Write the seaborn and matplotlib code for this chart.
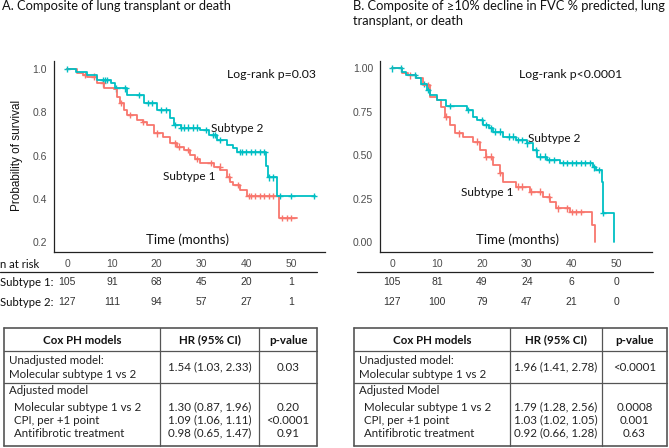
import numpy as np
import pandas as pd
import matplotlib
matplotlib.use("Agg")
import matplotlib.pyplot as plt
import matplotlib.transforms as mtransforms
from matplotlib.lines import Line2D
import seaborn as sns

# ---- data ----
# Panel A: lung transplant or death
a_s1_time = [0, 2.2, 3.5, 4.5, 6.7, 8.2, 10.4, 11.1, 11.9, 12.6, 13.4, 15.6, 17.0, 17.8, 19.3,
             21.5, 23.0, 24.5, 26.0, 27.5, 28.5, 29.7, 32.7, 34.2, 35.7, 36.4, 37.1, 38.6, 40.1,
             47.2, 51.3]
a_s1_surv = [1.0, 0.98, 0.972, 0.965, 0.934, 0.911, 0.906, 0.872, 0.842, 0.81, 0.788, 0.765, 0.755,
             0.742, 0.703, 0.688, 0.657, 0.642, 0.625, 0.603, 0.585, 0.565, 0.549, 0.534, 0.503,
             0.48, 0.465, 0.442, 0.414, 0.312, 0.312]
a_s2_time = [0, 1.9, 4.5, 6.7, 9.7, 10.8, 13.4, 17.1, 20.0, 23.0, 23.8, 25.3, 29.7, 31.6, 33.4,
             35.7, 37.1, 37.9, 44.4, 44.8, 46.8, 55.2]
a_s2_surv = [1.0, 0.988, 0.972, 0.949, 0.934, 0.911, 0.88, 0.842, 0.81, 0.772, 0.742, 0.729, 0.718,
             0.695, 0.672, 0.649, 0.634, 0.617, 0.55, 0.50, 0.414, 0.414]
a_s1_cens = [4, 6, 8, 12, 14, 17, 20, 24, 25, 27, 29, 32, 34, 36, 38, 40.5, 41, 42, 43, 44, 45,
             46, 48, 49, 50]
a_s2_cens = [0, 8, 8.5, 9, 11, 13, 16, 18, 19, 21, 22, 24, 25.5, 26, 27, 28, 29, 31, 32.5, 33, 34,
             38.5, 39, 40, 41, 42, 43, 44, 45, 46, 47.5, 50, 55]

# Panel B: >=10% FVC decline, lung transplant or death
b_s1_time = [0, 2.1, 3.5, 5.4, 6.9, 8.4, 9.9, 11.0, 11.7, 12.9, 14.0, 15.8, 18.0, 19.5, 21.0,
             22.5, 24.0, 24.7, 27.7, 30.7, 33.7, 35.1, 36.6, 39.6, 44.5, 45.2]
b_s1_surv = [1.0, 0.975, 0.96, 0.943, 0.904, 0.837, 0.818, 0.78, 0.722, 0.674, 0.626, 0.607,
             0.579, 0.531, 0.492, 0.444, 0.397, 0.349, 0.32, 0.291, 0.262, 0.234, 0.195, 0.174,
             0.10, 0.0]
b_s2_time = [0, 2.1, 3.2, 5.4, 6.5, 7.7, 8.4, 9.9, 12.1, 16.6, 18.0, 19.0, 20.3, 21.5, 22.5,
             24.7, 27.7, 30.0, 31.4, 32.2, 34.4, 37.4, 44.7, 45.5, 46.7, 47.0, 49.4]
b_s2_surv = [1.0, 0.981, 0.962, 0.943, 0.91, 0.875, 0.847, 0.818, 0.784, 0.761, 0.722, 0.70,
             0.674, 0.655, 0.636, 0.607, 0.588, 0.569, 0.531, 0.492, 0.473, 0.456, 0.43, 0.415,
             0.346, 0.168, 0.0]
b_s1_cens = [4, 8, 12, 15, 19, 21, 22, 24, 28, 29, 31, 33, 35, 37, 39, 40, 41, 42]
b_s2_cens = [0, 2, 5, 7, 8, 13, 17, 20, 21, 22, 23, 24, 26, 27, 28, 29, 30, 32, 33, 34, 35, 36,
             38, 39, 40, 41, 42, 43, 44, 45, 46, 47]

risk_times = [0, 10, 20, 30, 40, 50]
a_risk_s1 = [105, 91, 68, 45, 20, 1]
a_risk_s2 = [127, 111, 94, 57, 27, 1]
b_risk_s1 = [105, 81, 49, 24, 6, 0]
b_risk_s2 = [127, 100, 79, 47, 21, 0]

table_header = ["Cox PH models", "HR (95% CI)", "p-value"]
a_unadj_label = ["Unadjusted model:", "Molecular subtype 1 vs 2"]
a_unadj_hr = "1.54 (1.03, 2.33)"
a_unadj_p = "0.03"
a_adj_title = "Adjusted model"
adj_vars = ["Molecular subtype 1 vs 2", "CPI, per +1 point", "Antifibrotic treatment"]
a_adj_hr = ["1.30 (0.87, 1.96)", "1.09 (1.06, 1.11)", "0.98 (0.65, 1.47)"]
a_adj_p = ["0.20", "<0.0001", "0.91"]
b_unadj_hr = "1.96 (1.41, 2.78)"
b_unadj_p = "<0.0001"
b_adj_title = "Adjusted Model"
b_adj_hr = ["1.79 (1.28, 2.56)", "1.03 (1.02, 1.05)", "0.92 (0.66, 1.28)"]
b_adj_p = ["0.0008", "0.001", "0.63"]

RED = "#F8766D"
TEAL = "#00BFC4"
W, H = 669, 448

sns.set_style("white")
plt.rcParams["font.family"] = ["Liberation Sans", "DejaVu Sans"]
CAL = ["Lato", "DejaVu Sans"]
TBL = 8.3

fig = plt.figure(figsize=(W / 100, H / 100), dpi=100)


def fx(px):
    return px / W


def fy(py):
    return 1 - py / H


def ftext(x, y, s, **kw):
    kw.setdefault("family", CAL)
    kw.setdefault("fontsize", 8)
    kw.setdefault("color", "#111111")
    fig.text(fx(x), fy(y), s, **kw)


def km_frame(times, surv, group):
    return pd.DataFrame({"time": times, "surv": surv, "group": group})


def surv_at(times, surv, t):
    idx = np.searchsorted(times, t, side="right") - 1
    return surv[max(idx, 0)]


def draw_km(ax, s1, s2, c1, c2):
    df = pd.concat([km_frame(s1[0], s1[1], "Subtype 1"), km_frame(s2[0], s2[1], "Subtype 2")])
    sns.lineplot(data=df, x="time", y="surv", hue="group", palette=[RED, TEAL],
                 drawstyle="steps-post", linewidth=1.3, legend=False, ax=ax, estimator=None)
    cens = []
    for (t, s), cs, g in [(s1, c1, "Subtype 1"), (s2, c2, "Subtype 2")]:
        for c in cs:
            cens.append({"time": c, "surv": surv_at(t, s, c), "group": g})
    cdf = pd.DataFrame(cens)
    sns.scatterplot(data=cdf, x="time", y="surv", hue="group", palette=[RED, TEAL],
                    marker="+", s=22, linewidth=1.0, legend=False, ax=ax)
    sns.despine(ax=ax)
    ax.set_xlabel("")
    ax.set_ylabel("")
    ax.set_xticks(risk_times)
    ax.tick_params(axis="both", labelsize=7.5, colors="#333333", length=3, width=0.8,
                   labelcolor="#4d4d4d", pad=2)
    for sp in ["left", "bottom"]:
        ax.spines[sp].set_color("#222222")
        ax.spines[sp].set_linewidth(0.9)


# ---- panel A ----
axA = fig.add_axes([fx(54), fy(252), fx(325 - 54), (252 - 61) / H])
draw_km(axA, (a_s1_time, a_s1_surv), (a_s2_time, a_s2_surv), a_s1_cens, a_s2_cens)
axA.set_xlim(-2.9, 57.5)
axA.set_ylim(0.155, 1.037)
axA.set_yticks([0.2, 0.4, 0.6, 0.8, 1.0])
axA.set_yticklabels(["0.2", "0.4", "0.6", "0.8", "1.0"])

# ---- panel B ----
axB = fig.add_axes([fx(380), fy(252), fx(652 - 380), (252 - 61) / H])
draw_km(axB, (b_s1_time, b_s1_surv), (b_s2_time, b_s2_surv), b_s1_cens, b_s2_cens)
axB.set_xlim(-2.7, 57.9)
axB.set_ylim(-0.056, 1.042)
axB.set_yticks([0, 0.25, 0.5, 0.75, 1.0])
axB.set_yticklabels(["0.00", "0.25", "0.50", "0.75", "1.00"])

# titles and annotations
ftext(2, 6, "A. Composite of lung transplant or death", fontsize=9.3, va="center")
ftext(353, 6, "B. Composite of \u226510% decline in FVC % predicted, lung", fontsize=9.3,
      va="center")
ftext(353, 21, "transplant, or death", fontsize=9.3, va="center")
ftext(17, 155, "Probability of survival", family=["Liberation Sans", "DejaVu Sans"],
      fontsize=8.5, rotation=90, ha="center", va="center")
ftext(187, 240, "Time (months)", fontsize=9.5, ha="center", va="center")
ftext(518, 240, "Time (months)", fontsize=9.5, ha="center", va="center")
ftext(271, 75, "Log-rank p=0.03", fontsize=8.8, ha="center", va="center")
ftext(571, 75, "Log-rank p<0.0001", fontsize=8.8, ha="center", va="center")
ftext(237, 128, "Subtype 2", fontsize=8.5, ha="center", va="center")
ftext(189, 177, "Subtype 1", fontsize=8.5, ha="center", va="center")
ftext(554, 138, "Subtype 2", fontsize=8.5, ha="center", va="center")
ftext(487, 192, "Subtype 1", fontsize=8.5, ha="center", va="center")

# ---- numbers at risk ----
ftext(0, 265, "n at risk", fontsize=8.2, va="center")
fig.add_artist(Line2D([fx(0), fx(317)], [fy(272), fy(272)], color="#222222", lw=0.9))
fig.add_artist(Line2D([fx(357), fx(653)], [fy(272), fy(272)], color="#222222", lw=0.9))
ftext(0, 282, "Subtype 1:", fontsize=8.2, va="center")
ftext(0, 302, "Subtype 2:", fontsize=8.2, va="center")
for ax, r1, r2 in [(axA, a_risk_s1, a_risk_s2), (axB, b_risk_s1, b_risk_s2)]:
    tr = mtransforms.blended_transform_factory(ax.transData, fig.transFigure)
    for t, n1, n2 in zip(risk_times, r1, r2):
        fig.text(t, fy(282), str(n1), transform=tr, ha="center", va="center", fontsize=7.5,
                 color="#333333")
        fig.text(t, fy(302), str(n2), transform=tr, ha="center", va="center", fontsize=7.5,
                 color="#333333")


# ---- Cox PH tables ----
def hline(x0, x1, y, lw=0.9):
    fig.add_artist(Line2D([fx(x0), fx(x1)], [fy(y), fy(y)], color="#555555", lw=lw))


def vline(x, y0, y1, lw=0.9):
    fig.add_artist(Line2D([fx(x), fx(x)], [fy(y0), fy(y1)], color="#555555", lw=lw))


def draw_table(left, c1, c2, right, unadj_hr, unadj_p, adj_title, adj_hr, adj_p):
    top, hdr, mid, bot = 328, 351, 383, 446
    for y in [top, hdr, mid, bot]:
        hline(left, right, y, lw=1.2 if y in (top, bot) else 0.9)
    for x in [left, c1, c2, right]:
        vline(x, top, bot, lw=1.2 if x in (left, right) else 0.9)
    centers = [(left + c1) / 2, (c1 + c2) / 2, (c2 + right) / 2]
    for cx, h in zip(centers, table_header):
        ftext(cx, 340, h, fontsize=TBL, fontweight="bold", ha="center", va="center")
    ftext(left + 5, 360, a_unadj_label[0], fontsize=TBL, va="center", color="#222222")
    ftext(left + 5, 374, a_unadj_label[1], fontsize=TBL, va="center", color="#222222")
    ftext(centers[1], 367, unadj_hr, fontsize=TBL, ha="center", va="center", color="#222222")
    ftext(centers[2], 367, unadj_p, fontsize=TBL, ha="center", va="center", color="#222222")
    ftext(left + 5, 391, adj_title, fontsize=TBL, va="center", color="#222222")
    for i, (v, hr, p) in enumerate(zip(adj_vars, adj_hr, adj_p)):
        y = 407 + i * 13
        ftext(left + 10, y, v, fontsize=TBL, va="center", color="#222222")
        ftext(centers[1], y, hr, fontsize=TBL, ha="center", va="center", color="#222222")
        ftext(centers[2], y, p, fontsize=TBL, ha="center", va="center", color="#222222")


draw_table(4, 160, 259, 317, a_unadj_hr, a_unadj_p, a_adj_title, a_adj_hr, a_adj_p)
draw_table(354, 510, 602, 667, b_unadj_hr, b_unadj_p, b_adj_title, b_adj_hr, b_adj_p)

fig.savefig("out.png", dpi=100)
